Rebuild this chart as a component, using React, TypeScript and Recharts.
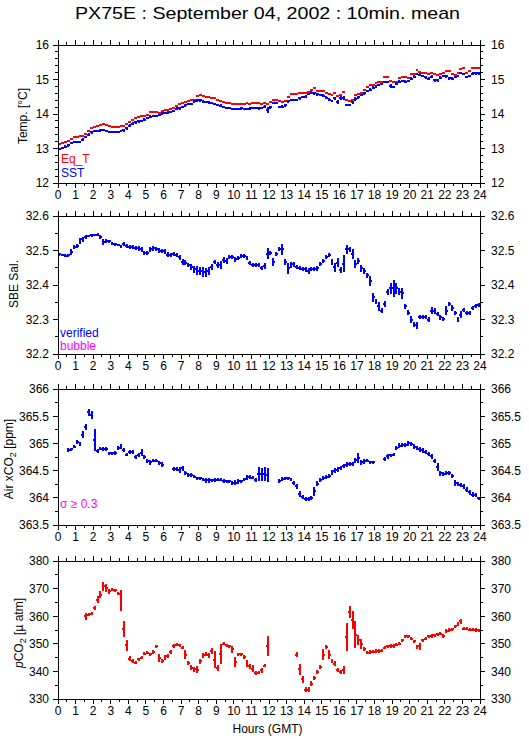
import React from 'react';
import { ComposedChart, Scatter, XAxis, YAxis, ErrorBar } from 'recharts';

const FONT = '"Liberation Sans", Arial, Helvetica, sans-serif';
const RED = '#ff0000';
const BLUE = '#0000ff';
const MAGENTA = '#ff00ff';

// ---------- axis ticks ----------
const hourMajorTicks = [0, 1, 2, 3, 4, 5, 6, 7, 8, 9, 10, 11, 12, 13, 14, 15, 16, 17, 18, 19, 20, 21, 22, 23, 24];
const hourMinorTicks = [0.5, 1.5, 2.5, 3.5, 4.5, 5.5, 6.5, 7.5, 8.5, 9.5, 10.5, 11.5, 12.5, 13.5, 14.5, 15.5, 16.5, 17.5, 18.5, 19.5, 20.5, 21.5, 22.5, 23.5];

const tempMajorTicks = [12, 13, 14, 15, 16];
const tempMinorTicks = [12.2, 12.4, 12.6, 12.8, 13.2, 13.4, 13.6, 13.8, 14.2, 14.4, 14.6, 14.8, 15.2, 15.4, 15.6, 15.8];
const salMajorTicks = [32.2, 32.3, 32.4, 32.5, 32.6];
const salMinorTicks = [32.25, 32.35, 32.45, 32.55];
const airMajorTicks = [363.5, 364, 364.5, 365, 365.5, 366];
const airMinorTicks = [363.75, 364.25, 364.75, 365.25, 365.75];
const pco2MajorTicks = [330, 340, 350, 360, 370, 380];
const pco2MinorTicks = [335, 345, 355, 365, 375];

// ---------- data: 10-minute means, 144 intervals ----------
const intervalCount = 144;
const timeHours = Array.from({ length: intervalCount }, (_, i) => (i + 0.5) / 6);
const halfIntervalHours = 5 / 60;

const eqT = [
  13.14, 13.15, 13.19, 13.22, 13.27, 13.32,
  13.34, 13.35, 13.36, 13.43, 13.50, 13.60,
  13.61, 13.64, 13.67, 13.70, 13.67, 13.65,
  13.63, 13.62, 13.63, 13.65, 13.66, 13.72,
  13.78, 13.84, 13.88, 13.92, 13.94, 13.94,
  13.98, 14.05, 14.06, 14.05, 14.03, 14.10,
  14.12, 14.12, 14.14, 14.16, 14.22, 14.28,
  14.32, 14.34, 14.37, 14.42, 14.42, 14.52,
  14.54, 14.53, 14.48, 14.48, 14.45, 14.45,
  14.42, 14.38, 14.35, 14.33, 14.31, 14.30,
  14.29, 14.29, 14.30, 14.30, 14.32, 14.28,
  14.31, 14.33, 14.32, 14.30, 14.33, 14.28,
  14.34, 14.42, 14.42, 14.38, 14.36, 14.38,
  14.48, 14.58, 14.58, 14.58, 14.60, 14.62,
  14.62, 14.64, 14.71, 14.74, 14.67, 14.67,
  14.67, 14.62, 14.58, 14.55, 14.60, 14.52,
  14.55, 14.63, 14.42, 14.38, 14.40, 14.55,
  14.58, 14.62, 14.70, 14.77, 14.84, 14.84,
  14.90, 14.94, 14.94, 15.06, 15.06, 14.95,
  14.94, 14.94, 15.03, 15.06, 15.08, 15.05,
  15.15, 15.16, 15.27, 15.22, 15.20, 15.18,
  15.15, 15.20, 15.15, 15.13, 15.15, 15.18,
  15.24, 15.24, 15.15, 15.13, 15.20, 15.29,
  15.32, 15.20, 15.26, 15.32, 15.32, 15.32,
];

const sst = [
  13.00, 13.01, 13.05, 13.09, 13.15, 13.18,
  13.19, 13.20, 13.26, 13.33, 13.40, 13.47,
  13.50, 13.51, 13.53, 13.54, 13.52, 13.49,
  13.48, 13.47, 13.49, 13.51, 13.53, 13.58,
  13.66, 13.72, 13.76, 13.79, 13.80, 13.84,
  13.88, 13.92, 13.94, 13.93, 13.96, 14.02,
  14.03, 14.04, 14.06, 14.09, 14.15, 14.17,
  14.20, 14.25, 14.29, 14.30, 14.37, 14.40,
  14.40, 14.36, 14.34, 14.34, 14.33, 14.30,
  14.26, 14.24, 14.20, 14.17, 14.16, 14.15,
  14.15, 14.15, 14.16, 14.15, 14.14, 14.15,
  14.17, 14.18, 14.16, 14.17, 14.21, 14.11,
  14.19, 14.31, 14.31, 14.21, 14.21, 14.25,
  14.37, 14.42, 14.42, 14.42, 14.46, 14.50,
  14.50, 14.58, 14.62, 14.60, 14.57, 14.55,
  14.53, 14.47, 14.42, 14.38, 14.45, 14.35,
  14.47, 14.47, 14.27, 14.26, 14.34, 14.44,
  14.48, 14.55, 14.60, 14.67, 14.71, 14.76,
  14.79, 14.84, 14.88, 14.94, 14.93, 14.80,
  14.78, 14.88, 14.94, 14.96, 14.94, 14.95,
  15.02, 15.08, 15.16, 15.14, 15.10, 15.06,
  15.02, 15.08, 14.98, 14.98, 15.05, 15.10,
  15.09, 15.03, 15.02, 15.07, 15.10, 15.18,
  15.16, 15.07, 15.10, 15.17, 15.18, 15.18,
];

const sstStd = [
  0.02, 0.02, 0.04, 0.04, 0.02, 0.02,
  0.02, 0.02, 0.04, 0.04, 0.04, 0.04,
  0.02, 0.02, 0.04, 0.02, 0.02, 0.02,
  0.02, 0.02, 0.02, 0.02, 0.04, 0.04,
  0.04, 0.04, 0.04, 0.04, 0.02, 0.04,
  0.02, 0.04, 0.04, 0.02, 0.02, 0.04,
  0.02, 0.04, 0.02, 0.04, 0.04, 0.04,
  0.04, 0.04, 0.02, 0.02, 0.04, 0.04,
  0.04, 0.04, 0.02, 0.04, 0.02, 0.02,
  0.04, 0.04, 0.02, 0.02, 0.02, 0.02,
  0.02, 0.02, 0.04, 0.02, 0.02, 0.04,
  0.02, 0.02, 0.04, 0.02, 0.04, 0.08,
  0.04, 0.02, 0.02, 0.02, 0.04, 0.04,
  0.04, 0.02, 0.02, 0.02, 0.04, 0.02,
  0.04, 0.04, 0.04, 0.04, 0.04, 0.02,
  0.04, 0.04, 0.04, 0.04, 0.04, 0.07,
  0.05, 0.05, 0.02, 0.02, 0.05, 0.05,
  0.04, 0.04, 0.04, 0.04, 0.04, 0.04,
  0.04, 0.02, 0.02, 0.02, 0.04, 0.06,
  0.04, 0.04, 0.04, 0.04, 0.04, 0.02,
  0.04, 0.04, 0.04, 0.04, 0.04, 0.04,
  0.04, 0.04, 0.04, 0.04, 0.04, 0.04,
  0.04, 0.04, 0.04, 0.04, 0.04, 0.02,
  0.04, 0.04, 0.04, 0.04, 0.04, 0.04,
];

const salinity = [
  32.489, 32.487, 32.485, 32.486, 32.495, 32.510,
  32.512, 32.527, 32.532, 32.540, 32.542, 32.544,
  32.545, 32.546, 32.540, 32.525, 32.527, 32.527,
  32.520, 32.518, 32.516, 32.512, 32.519, 32.512,
  32.510, 32.509, 32.507, 32.506, 32.503, 32.494,
  32.494, 32.503, 32.506, 32.505, 32.500, 32.498,
  32.497, 32.488, 32.488, 32.489, 32.486, 32.480,
  32.466, 32.465, 32.458, 32.452, 32.445, 32.442,
  32.440, 32.438, 32.436, 32.440, 32.452, 32.466,
  32.458, 32.458, 32.473, 32.470, 32.482, 32.480,
  32.474, 32.478, 32.484, 32.483, 32.478, 32.464,
  32.458, 32.457, 32.457, 32.450, 32.455, 32.491,
  32.494, 32.467, 32.489, 32.504, 32.503, 32.467,
  32.448, 32.458, 32.460, 32.451, 32.449, 32.446,
  32.445, 32.441, 32.447, 32.447, 32.448, 32.460,
  32.470, 32.480, 32.486, 32.467, 32.451, 32.465,
  32.443, 32.462, 32.503, 32.503, 32.489, 32.460,
  32.470, 32.448, 32.440, 32.428, 32.412, 32.364,
  32.352, 32.338, 32.326, 32.345, 32.379, 32.390,
  32.390, 32.390, 32.381, 32.376, 32.338, 32.320,
  32.300, 32.285, 32.282, 32.308, 32.308, 32.308,
  32.300, 32.326, 32.324, 32.315, 32.306, 32.302,
  32.326, 32.345, 32.333, 32.320, 32.300, 32.314,
  32.328, 32.320, 32.320, 32.334, 32.340, 32.342,
];

const salinityStd = [
  0.004, 0.004, 0.004, 0.004, 0.008, 0.006,
  0.006, 0.008, 0.006, 0.006, 0.004, 0.004,
  0.004, 0.004, 0.006, 0.008, 0.006, 0.004,
  0.004, 0.004, 0.004, 0.004, 0.006, 0.006,
  0.006, 0.006, 0.006, 0.006, 0.006, 0.006,
  0.006, 0.006, 0.006, 0.006, 0.006, 0.006,
  0.008, 0.008, 0.006, 0.006, 0.006, 0.008,
  0.008, 0.008, 0.006, 0.008, 0.010, 0.012,
  0.012, 0.014, 0.014, 0.012, 0.008, 0.006,
  0.010, 0.012, 0.008, 0.008, 0.006, 0.006,
  0.006, 0.006, 0.006, 0.006, 0.006, 0.006,
  0.006, 0.006, 0.006, 0.006, 0.008, 0.015,
  0.006, 0.012, 0.006, 0.006, 0.015, 0.008,
  0.015, 0.010, 0.008, 0.006, 0.006, 0.006,
  0.006, 0.008, 0.006, 0.006, 0.006, 0.006,
  0.006, 0.006, 0.006, 0.008, 0.012, 0.012,
  0.008, 0.024, 0.012, 0.008, 0.014, 0.012,
  0.008, 0.010, 0.008, 0.008, 0.014, 0.014,
  0.008, 0.012, 0.006, 0.010, 0.008, 0.015,
  0.024, 0.015, 0.010, 0.016, 0.008, 0.008,
  0.010, 0.008, 0.010, 0.006, 0.006, 0.006,
  0.006, 0.010, 0.008, 0.006, 0.006, 0.006,
  0.012, 0.006, 0.008, 0.006, 0.008, 0.010,
  0.006, 0.006, 0.006, 0.006, 0.006, 0.006,
];

const airXco2 = [
  null, null, null, 364.88, 364.89, 364.94,
  365.03, 364.99, 365.16, 365.30, 365.57, 365.52,
  365.06, 364.86, 364.90, 364.90, 364.90, 364.82,
  364.82, 364.82, 364.92, 364.94, 364.88, 364.79,
  364.84, 364.84, 364.75, 364.79, 364.83, 364.75,
  364.68, 364.65, 364.68, 364.68, 364.64, 364.61,
  null, null, null, 364.53, 364.53, 364.51,
  364.54, 364.45, 364.42, 364.42, 364.39, 364.36,
  364.36, 364.33, 364.32, 364.32, 364.32, 364.33,
  364.33, 364.33, 364.31, 364.30, 364.30, 364.27,
  364.28, 364.30, 364.30, 364.34, 364.37, 364.38,
  364.37, 364.33, 364.43, 364.43, 364.43, 364.42,
  null, null, null, 364.31, 364.34, 364.36,
  364.36, 364.33, 364.27, 364.21, 364.07, 364.01,
  363.98, 363.98, 364.00, 364.12, 364.26, 364.33,
  364.36, 364.38, 364.40, 364.46, 364.50, 364.52,
  364.55, 364.58, 364.61, 364.62, 364.62, 364.69,
  364.73, 364.65, 364.67, 364.68, 364.65, 364.65,
  null, null, null, 364.71, 364.76, 364.78,
  364.79, 364.91, 364.96, 364.97, 364.97, 365.00,
  364.99, 364.94, 364.92, 364.89, 364.87, 364.84,
  364.80, 364.76, 364.68, 364.57, 364.45, 364.44,
  364.46, 364.46, 364.40, 364.27, 364.25, 364.23,
  364.21, 364.15, 364.10, 364.06, 364.05, 363.99,
];

const airXco2Std = [
  0, 0, 0, 0.03, 0.03, 0.03,
  0.04, 0.03, 0.06, 0.06, 0.07, 0.07,
  0.20, 0.03, 0.03, 0.04, 0.04, 0.03,
  0.03, 0.04, 0.04, 0.04, 0.03, 0.03,
  0.04, 0.04, 0.04, 0.04, 0.06, 0.04,
  0.04, 0.04, 0.03, 0.03, 0.04, 0.04,
  0, 0, 0, 0.04, 0.04, 0.05,
  0.04, 0.04, 0.03, 0.03, 0.03, 0.03,
  0.03, 0.03, 0.04, 0.04, 0.03, 0.04,
  0.03, 0.03, 0.03, 0.03, 0.03, 0.04,
  0.04, 0.04, 0.03, 0.03, 0.05, 0.04,
  0.03, 0.04, 0.13, 0.12, 0.13, 0.13,
  0, 0, 0, 0.04, 0.04, 0.03,
  0.03, 0.03, 0.04, 0.04, 0.05, 0.04,
  0.04, 0.04, 0.04, 0.08, 0.04, 0.04,
  0.04, 0.04, 0.04, 0.05, 0.04, 0.04,
  0.04, 0.04, 0.04, 0.04, 0.04, 0.05,
  0.09, 0.04, 0.04, 0.03, 0.03, 0.03,
  0, 0, 0, 0.04, 0.04, 0.03,
  0.03, 0.04, 0.04, 0.04, 0.04, 0.04,
  0.04, 0.04, 0.04, 0.04, 0.04, 0.04,
  0.04, 0.04, 0.04, 0.07, 0.05, 0.04,
  0.04, 0.04, 0.03, 0.06, 0.04, 0.04,
  0.04, 0.04, 0.04, 0.04, 0.03, 0.03,
];

const pco2 = [
  null, null, null, null, null, null,
  null, null, null, 360.0, 360.6, 360.9,
  363.0, 366.0, 367.8, 370.9, 370.3, 369.0,
  369.6, 369.4, 368.2, 365.7, 355.2, 349.4,
  344.6, 343.8, 343.2, 344.4, 345.0, 346.4,
  346.8, 346.2, 347.0, 349.1, 344.9, 343.8,
  345.0, 345.6, 347.0, 349.2, 349.7, 349.4,
  348.6, 346.1, 343.0, 341.4, 340.7, 340.6,
  343.6, 345.8, 346.4, 345.8, 347.3, 344.3,
  341.2, 346.4, 350.0, 349.4, 349.1, 348.0,
  343.4, 346.2, 346.2, 345.2, 342.8, 341.8,
  341.0, 339.5, 339.5, 340.4, 342.1, 349.2,
  null, null, null, null, null, null,
  null, null, null, 346.1, 340.7, 337.1,
  333.4, 333.4, 335.6, 337.6, 339.8, 341.6,
  346.1, 348.8, 346.1, 343.7, 342.8, 340.6,
  339.8, 340.6, 352.5, 361.5, 358.5, 353.3,
  351.3, 350.0, 348.2, 346.8, 347.0, 347.2,
  347.4, 347.4, 347.5, 348.6, 349.1, 349.2,
  349.2, 349.7, 350.0, 351.3, 352.7, 352.7,
  351.9, 350.9, 348.8, 349.1, 351.3, 351.9,
  352.7, 352.8, 353.1, 353.4, 353.7, 352.8,
  354.6, 354.9, 355.2, 356.3, 357.1, 358.1,
  355.5, 355.5, 355.1, 355.1, 355.0, 354.9,
];

const pco2Std = [
  0, 0, 0, 0, 0, 0,
  0, 0, 0, 1.2, 0.6, 0.6,
  0.8, 1.2, 1.2, 1.6, 1.5, 0.8,
  0.6, 0.6, 0.5, 3.8, 2.9, 1.9,
  0.8, 0.6, 0.5, 0.6, 0.6, 0.6,
  0.6, 0.6, 0.8, 0.6, 1.5, 0.8,
  0.8, 0.8, 0.6, 0.8, 0.6, 0.6,
  0.6, 1.5, 0.8, 0.8, 0.8, 1.3,
  0.8, 0.8, 0.8, 0.8, 1.0, 3.0,
  1.0, 3.6, 0.6, 0.6, 0.6, 1.3,
  1.7, 0.6, 0.6, 0.8, 1.3, 0.8,
  1.3, 0.8, 0.6, 0.8, 0.6, 3.6,
  0, 0, 0, 0, 0, 0,
  0, 0, 0, 0.8, 1.9, 1.3,
  0.8, 0.8, 0.8, 0.8, 0.8, 0.8,
  2.1, 0.6, 1.5, 0.8, 0.8, 0.8,
  0.8, 1.4, 5.1, 2.2, 3.3, 5.0,
  1.9, 1.9, 0.8, 0.6, 0.6, 0.6,
  0.6, 0.6, 0.6, 0.6, 0.6, 0.6,
  0.6, 0.6, 0.6, 0.6, 0.6, 0.6,
  0.6, 0.6, 0.6, 1.3, 0.6, 0.6,
  0.6, 0.6, 0.6, 0.6, 0.6, 0.6,
  0.8, 0.8, 0.6, 0.6, 0.8, 0.8,
  0.6, 0.6, 0.6, 0.6, 0.6, 0.6,
];

// ---------- helpers ----------
type Row = { x: number; y: number; ey: number; ex: number };

function buildRows(values: (number | null)[], std?: number[]): Row[] {
  const rows: Row[] = [];
  values.forEach((v, i) => {
    if (v === null || v === undefined) return;
    rows.push({ x: timeHours[i], y: v, ey: std ? std[i] : 0, ex: halfIntervalHours });
  });
  return rows;
}

const isIn = (list: number[], v: number) => list.some((m) => Math.abs(m - v) < 1e-6);

type Side = 'top' | 'bottom' | 'left' | 'right';

function makeTick(side: Side, majors: number[], fmt: (v: number) => string, withLabel: boolean) {
  return (props: any) => {
    const { x, y, payload } = props;
    const v = payload.value as number;
    const major = isIn(majors, v);
    const len = major ? 5 : 3;
    let x2 = x;
    let y2 = y;
    if (side === 'top') y2 = y - len;
    if (side === 'bottom') y2 = y + len;
    if (side === 'left') x2 = x - len;
    if (side === 'right') x2 = x + len;
    let label: React.ReactNode = null;
    if (withLabel && major) {
      if (side === 'bottom') {
        label = (
          <text x={x} y={y + 16} textAnchor="middle" fontSize={12} fontFamily={FONT} fill="#000">
            {fmt(v)}
          </text>
        );
      } else if (side === 'left') {
        label = (
          <text x={x - 9} y={y + 4.3} textAnchor="end" fontSize={12} fontFamily={FONT} fill="#000">
            {fmt(v)}
          </text>
        );
      } else if (side === 'right') {
        label = (
          <text x={x + 11} y={y + 4.3} textAnchor="start" fontSize={12} fontFamily={FONT} fill="#000">
            {fmt(v)}
          </text>
        );
      }
    }
    return (
      <g>
        <line x1={x} y1={y} x2={x2} y2={y2} stroke="#000" strokeWidth={1} shapeRendering="crispEdges" />
        {label}
      </g>
    );
  };
}

const hourTicks = [...hourMajorTicks, ...hourMinorTicks].sort((a, b) => a - b);
const fmtHour = (v: number) => String(v);
const bottomTick = makeTick('bottom', hourMajorTicks, fmtHour, true);
const topTick = makeTick('top', hourMajorTicks, fmtHour, false);

const emptyShape = () => <g />;
const axisLineStyle = { stroke: '#000', strokeWidth: 1, shapeRendering: 'crispEdges' } as any;

type SeriesSpec = { name: string; values: (number | null)[]; std?: number[]; color: string };

type PanelProps = {
  plotTop: number;
  plotHeight: number;
  domain: [number, number];
  majors: number[];
  minors: number[];
  fmt: (v: number) => string;
  series: SeriesSpec[];
};

const AXIS_H = 1;

function Panel({ plotTop, plotHeight, domain, majors, minors, fmt, series }: PanelProps) {
  const margin = { top: 19, right: 0, bottom: 23, left: 0 };
  const yTicks = [...majors, ...minors].sort((a, b) => a - b);
  const leftTick = makeTick('left', majors, fmt, true);
  const rightTick = makeTick('right', majors, fmt, true);
  const outerTop = plotTop - margin.top - AXIS_H;
  return (
    <div style={{ position: 'absolute', left: 0, top: outerTop }}>
      <ComposedChart width={529} height={plotHeight + margin.top + margin.bottom + 2 * AXIS_H} margin={margin}>
        <XAxis
          xAxisId="b"
          orientation="bottom"
          type="number"
          dataKey="x"
          domain={[0, 24]}
          ticks={hourTicks}
          interval={0}
          height={AXIS_H}
          tickSize={0}
          tickMargin={0}
          tickLine={false}
          axisLine={axisLineStyle}
          tick={bottomTick}
          allowDataOverflow
        />
        <XAxis
          xAxisId="t"
          orientation="top"
          type="number"
          dataKey="x"
          domain={[0, 24]}
          ticks={hourTicks}
          interval={0}
          height={AXIS_H}
          tickSize={0}
          tickMargin={0}
          tickLine={false}
          axisLine={axisLineStyle}
          tick={topTick}
          allowDataOverflow
        />
        <YAxis
          yAxisId="l"
          orientation="left"
          type="number"
          dataKey="y"
          domain={domain}
          ticks={yTicks}
          interval={0}
          width={58}
          tickSize={0}
          tickMargin={0}
          tickLine={false}
          axisLine={axisLineStyle}
          tick={leftTick}
          allowDataOverflow
        />
        <YAxis
          yAxisId="r"
          orientation="right"
          type="number"
          dataKey="y"
          domain={domain}
          ticks={yTicks}
          interval={0}
          width={49}
          tickSize={0}
          tickMargin={0}
          tickLine={false}
          axisLine={axisLineStyle}
          tick={rightTick}
          allowDataOverflow
        />
        {series.map((s) => (
          <Scatter
            key={s.name}
            name={s.name}
            xAxisId="b"
            yAxisId="l"
            dataKey="y"
            data={buildRows(s.values, s.std)}
            fill={s.color}
            shape={emptyShape}
            isAnimationActive={false}
          >
            {s.std ? (
              <ErrorBar
                dataKey="ey"
                direction="y"
                width={0}
                stroke={s.color}
                strokeWidth={2}
                shapeRendering="crispEdges"
                isAnimationActive={false}
              />
            ) : null}
            <ErrorBar
              dataKey="ex"
              direction="x"
              width={0}
              stroke={s.color}
              strokeWidth={2}
              shapeRendering="crispEdges"
              isAnimationActive={false}
            />
          </Scatter>
        ))}
      </ComposedChart>
    </div>
  );
}

export default function App() {
  const textStyle = { fontFamily: FONT } as const;
  return (
    <div style={{ position: 'absolute', left: 0, top: 0, width: 529, height: 739, background: '#fff', overflow: 'hidden' }}>
      <Panel
        plotTop={45}
        plotHeight={138}
        domain={[12, 16]}
        majors={tempMajorTicks}
        minors={tempMinorTicks}
        fmt={(v) => String(v)}
        series={[
          { name: 'Eq_T', values: eqT, color: RED },
          { name: 'SST', values: sst, std: sstStd, color: BLUE },
        ]}
      />
      <Panel
        plotTop={216}
        plotHeight={138}
        domain={[32.2, 32.6]}
        majors={salMajorTicks}
        minors={salMinorTicks}
        fmt={(v) => v.toFixed(1)}
        series={[{ name: 'verified', values: salinity, std: salinityStd, color: BLUE }]}
      />
      <Panel
        plotTop={389}
        plotHeight={136}
        domain={[363.5, 366]}
        majors={airMajorTicks}
        minors={airMinorTicks}
        fmt={(v) => String(v)}
        series={[{ name: 'AirxCO2', values: airXco2, std: airXco2Std, color: BLUE }]}
      />
      <Panel
        plotTop={561}
        plotHeight={138}
        domain={[330, 380]}
        majors={pco2MajorTicks}
        minors={pco2MinorTicks}
        fmt={(v) => String(v)}
        series={[{ name: 'pCO2', values: pco2, std: pco2Std, color: RED }]}
      />
      <svg width={529} height={739} style={{ position: 'absolute', left: 0, top: 0, pointerEvents: 'none' }}>
        <text x={267.5} y={18.5} textAnchor="middle" fontSize={17} textLength={385} lengthAdjust="spacingAndGlyphs" style={textStyle} fill="#000">
          PX75E : September 04, 2002 : 10min. mean
        </text>

        <text transform="translate(27,116) rotate(-90)" textAnchor="middle" fontSize={12} style={textStyle} fill="#000">
          Temp. [°C]
        </text>
        <text transform="translate(18,284) rotate(-90)" textAnchor="middle" fontSize={12} style={textStyle} fill="#000">
          SBE Sal.
        </text>
        <text transform="translate(12.5,459) rotate(-90)" textAnchor="middle" fontSize={12} style={textStyle} fill="#000">
          Air xCO<tspan fontSize={9} dy={3}>2</tspan>
          <tspan dy={-3}> [ppm]</tspan>
        </text>
        <text transform="translate(22.5,633) rotate(-90)" textAnchor="middle" fontSize={12} style={textStyle} fill="#000">
          <tspan fontStyle="italic">p</tspan>CO<tspan fontSize={9} dy={3}>2</tspan>
          <tspan dy={-3}> [µ atm]</tspan>
        </text>

        <text x={61} y={163} fontSize={12} style={textStyle} fill={RED}>Eq_T</text>
        <text x={61} y={177} fontSize={12} style={textStyle} fill={BLUE}>SST</text>
        <text x={60} y={337} fontSize={12} style={textStyle} fill={BLUE}>verified</text>
        <text x={60} y={349.5} fontSize={12} style={textStyle} fill={MAGENTA}>bubble</text>
        <text x={60} y={508} fontSize={12} style={textStyle} fill={MAGENTA}>σ ≥ 0.3</text>

        <text x={267.5} y={733} textAnchor="middle" fontSize={12} style={textStyle} fill="#000">
          Hours (GMT)
        </text>
      </svg>
    </div>
  );
}
